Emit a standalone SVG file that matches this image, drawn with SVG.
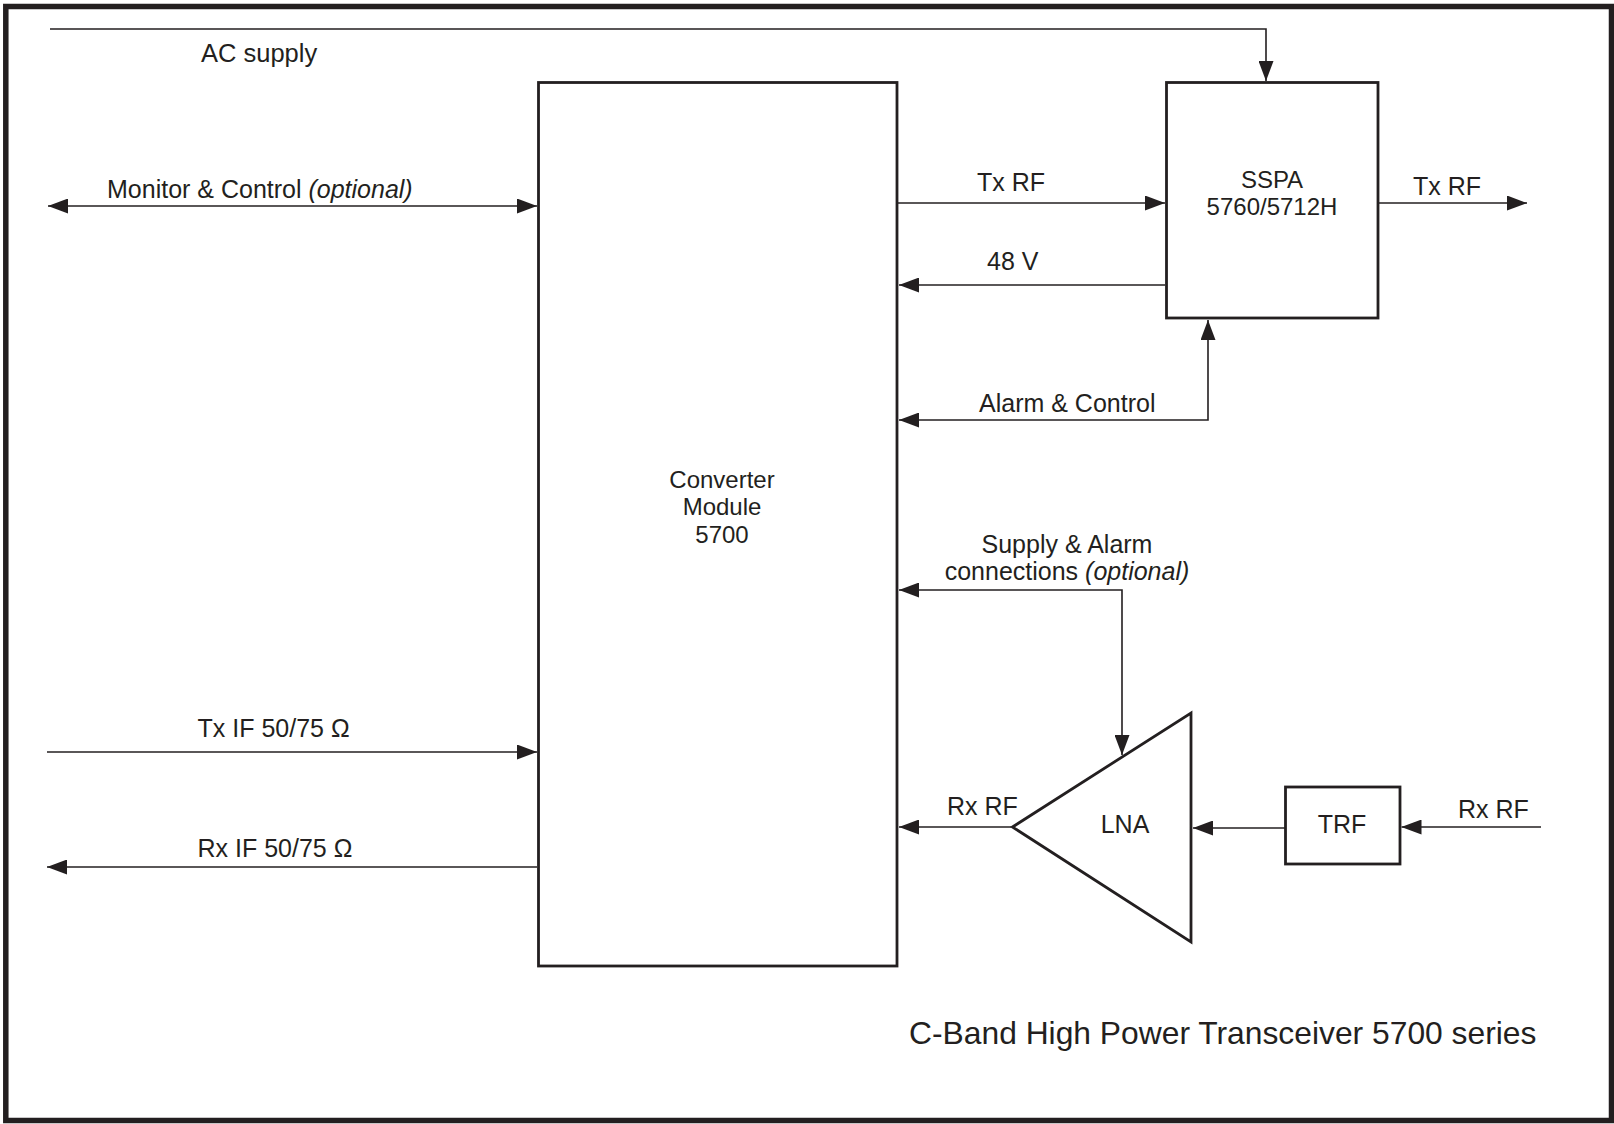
<svg xmlns="http://www.w3.org/2000/svg" width="1614" height="1124" viewBox="0 0 1614 1124">
<style>
  text { font-family: "Liberation Sans", Arial, sans-serif; fill: #231f20; font-size: 25px; }
  .c { text-anchor: middle; }
  .s24 { font-size: 24px; }
  .s26 { font-size: 25.5px; }
  .title { font-size: 31.8px; }
  .box { fill: #fff; stroke: #231f20; stroke-width: 2.8; }
  .wire { fill: none; stroke: #231f20; stroke-width: 1.6; }
  .it { font-style: italic; }
</style>
<defs>
  <marker id="ah" viewBox="0 0 20 15" refX="20" refY="7.5" markerWidth="20" markerHeight="15" markerUnits="userSpaceOnUse" orient="auto-start-reverse">
    <path d="M0,0 L20,7.5 L0,15 z" fill="#231f20"/>
  </marker>
</defs>
<rect x="0" y="0" width="1614" height="1124" fill="#fff"/>
<rect id="frame" x="5.8" y="6.5" width="1605.7" height="1114" fill="none" stroke="#231f20" stroke-width="5.5"/>

<g id="converter">
  <rect class="box" x="538.5" y="82.5" width="358.5" height="883.5"/>
  <text class="c s24" x="722" y="488">Converter</text>
  <text class="c s24" x="722" y="515">Module</text>
  <text class="c s24" x="722" y="543">5700</text>
</g>
<g id="sspa">
  <rect class="box" x="1166.5" y="82.5" width="211.5" height="235.5"/>
  <text class="c s24" x="1272" y="188">SSPA</text>
  <text class="c s24" x="1272" y="215">5760/5712H</text>
</g>
<g id="lna">
  <path class="box" d="M1012.5,827 L1191,713 L1191,942 Z"/>
  <text class="c" x="1125" y="833">LNA</text>
</g>
<g id="trf">
  <rect class="box" x="1285.5" y="787" width="114.5" height="77"/>
  <text class="c" x="1342" y="833">TRF</text>
</g>

<g id="connectors">
  <path class="wire" d="M50,29 H1266 V81" marker-end="url(#ah)"/>
  <path class="wire" d="M48,206 H537" marker-start="url(#ah)" marker-end="url(#ah)"/>
  <path class="wire" d="M898,203 H1165" marker-end="url(#ah)"/>
  <path class="wire" d="M1379,203 H1527" marker-end="url(#ah)"/>
  <path class="wire" d="M1165,285 H899" marker-end="url(#ah)"/>
  <path class="wire" d="M1208,320 V420 H899" marker-start="url(#ah)" marker-end="url(#ah)"/>
  <path class="wire" d="M1122,755 V590 H899" marker-start="url(#ah)" marker-end="url(#ah)"/>
  <path class="wire" d="M1011,827 H899" marker-end="url(#ah)"/>
  <path class="wire" d="M1285,828 H1193" marker-end="url(#ah)"/>
  <path class="wire" d="M1541,827 H1401.5" marker-end="url(#ah)"/>
  <path class="wire" d="M47,752 H537" marker-end="url(#ah)"/>
  <path class="wire" d="M537,867 H47" marker-end="url(#ah)"/>
</g>

<g id="labels">
  <text class="s26" x="201" y="62">AC supply</text>
  <text x="107" y="198">Monitor &amp; Control <tspan class="it">(optional)</tspan></text>
  <text x="977" y="191">Tx RF</text>
  <text x="1413" y="195">Tx RF</text>
  <text x="987" y="270">48 V</text>
  <text x="979" y="412">Alarm &amp; Control</text>
  <text class="c" x="1067" y="553">Supply &amp; Alarm</text>
  <text class="c" x="1067" y="580">connections <tspan class="it">(optional)</tspan></text>
  <text x="947" y="815">Rx RF</text>
  <text x="1458" y="818">Rx RF</text>
  <text x="197.5" y="737">Tx IF 50/75 Ω</text>
  <text x="197.5" y="857">Rx IF 50/75 Ω</text>
  <text class="title" x="909" y="1044">C-Band High Power Transceiver 5700 series</text>
</g>
</svg>
